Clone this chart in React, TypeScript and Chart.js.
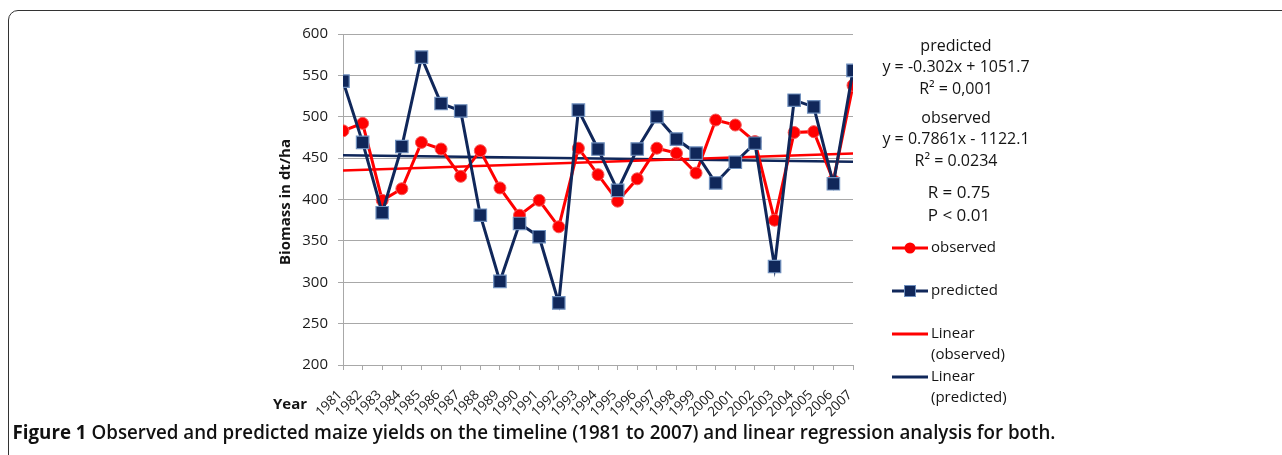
import React, { useEffect, useRef } from "react";
import { Chart, registerables } from "chart.js";

Chart.register(...registerables);

// ---- data ----
const years = [1981, 1982, 1983, 1984, 1985, 1986, 1987, 1988, 1989, 1990, 1991, 1992, 1993, 1994, 1995, 1996, 1997, 1998, 1999, 2000, 2001, 2002, 2003, 2004, 2005, 2006, 2007];
const observed = [483, 492, 399, 413, 469, 461, 428, 459, 414, 381, 399, 367, 462, 430, 398, 425, 462, 456, 432, 496, 490, 470, 375, 481, 482, 423, 538];
const predicted = [543, 469, 384, 464, 572, 516, 507, 381, 301, 371, 355, 275, 508, 461, 411, 461, 500, 473, 456, 420, 445, 468, 319, 520, 512, 419, 556];
const yMin = 200;
const yMax = 600;
const yStep = 50;
const predictedTrend = { slope: -0.302, intercept: 1051.7 };
const observedTrend = { slope: 0.7861, intercept: -1122.1 };

const yAxisTitle = "Biomass in dt/ha";
const xAxisTitle = "Year";
const annotationLines = [
  "predicted",
  "y = -0.302x + 1051.7",
  "R² = 0,001",
  "observed",
  "y = 0.7861x - 1122.1",
  "R² = 0.0234",
];
const statLines = ["R = 0.75", "P < 0.01"];
const legendLabels = ["observed", "predicted", ["Linear", "(observed)"], ["Linear", "(predicted)"]];
const captionBold = "Figure 1";
const captionRest = " Observed and predicted maize yields on the timeline (1981 to 2007) and linear regression analysis for both.";

// ---- styles ----
const RED = "#ff0000";
const NAVY = "#10275a";
const TEXT = "#141414";
const GRID = "#a8a8a8";

const trendPoints = (t: { slope: number; intercept: number }) => [
  { x: years[0], y: t.slope * years[0] + t.intercept },
  { x: years[years.length - 1], y: t.slope * years[years.length - 1] + t.intercept },
];

const overlayPlugin = {
  id: "overlay",
  afterDraw(chart: any) {
    const ctx: CanvasRenderingContext2D = chart.ctx;
    ctx.save();
    ctx.fillStyle = TEXT;
    ctx.textBaseline = "middle";

    // y axis title
    ctx.save();
    ctx.translate(286, 202);
    ctx.rotate(-Math.PI / 2);
    ctx.font = 'bold 15px "Open Sans"';
    ctx.textAlign = "center";
    ctx.fillText(yAxisTitle, 0, 0);
    ctx.restore();

    // x axis title
    ctx.font = 'bold 15px "Open Sans"';
    ctx.textAlign = "center";
    ctx.fillText(xAxisTitle, 290, 405);

    // annotations
    ctx.font = '16px "Open Sans"';
    const annY = [46, 67, 89, 118, 139, 161];
    annotationLines.forEach((t, i) => ctx.fillText(t, 956, annY[i]));
    ctx.font = '17px "Open Sans"';
    const statY = [193, 216];
    statLines.forEach((t, i) => ctx.fillText(t, 959, statY[i]));

    // legend
    const lx0 = 892;
    const lx1 = 928;
    const tx = 931;
    ctx.textAlign = "left";
    ctx.font = '15px "Open Sans"';
    const rows = [248, 291, 334, 377];
    // observed
    ctx.strokeStyle = RED;
    ctx.lineWidth = 3;
    ctx.beginPath();
    ctx.moveTo(lx0, rows[0]);
    ctx.lineTo(lx1, rows[0]);
    ctx.stroke();
    ctx.fillStyle = RED;
    ctx.beginPath();
    ctx.arc(910, rows[0], 5.5, 0, Math.PI * 2);
    ctx.fill();
    // predicted
    ctx.strokeStyle = NAVY;
    ctx.beginPath();
    ctx.moveTo(lx0, rows[1]);
    ctx.lineTo(lx1, rows[1]);
    ctx.stroke();
    ctx.fillStyle = NAVY;
    ctx.fillRect(904.5, rows[1] - 5.5, 11, 11);
    ctx.strokeStyle = "#6f8fbd";
    ctx.lineWidth = 1;
    ctx.strokeRect(904.5, rows[1] - 5.5, 11, 11);
    // linear
    ctx.lineWidth = 3;
    ctx.strokeStyle = RED;
    ctx.beginPath();
    ctx.moveTo(lx0, rows[2]);
    ctx.lineTo(lx1, rows[2]);
    ctx.stroke();
    ctx.strokeStyle = NAVY;
    ctx.beginPath();
    ctx.moveTo(lx0, rows[3]);
    ctx.lineTo(lx1, rows[3]);
    ctx.stroke();

    ctx.fillStyle = TEXT;
    legendLabels.forEach((lab, i) => {
      if (Array.isArray(lab)) {
        ctx.fillText(lab[0], tx, rows[i]);
        ctx.fillText(lab[1], tx, rows[i] + 21);
      } else {
        ctx.fillText(lab, tx, rows[i]);
      }
    });

    // caption
    const fb = 'bold 19px "Open Sans"';
    const fr = '600 19px "Open Sans"';
    ctx.font = fb;
    const wb = ctx.measureText(captionBold).width;
    ctx.font = fr;
    const wr = ctx.measureText(captionRest).width;
    const target = 1043;
    const s = target / (wb + wr);
    ctx.save();
    ctx.translate(12.5, 434);
    ctx.scale(s, 1);
    ctx.fillStyle = "#111";
    ctx.font = fb;
    ctx.fillText(captionBold, 0, 0);
    ctx.font = fr;
    ctx.fillText(captionRest, wb, 0);
    ctx.restore();

    ctx.restore();
  },
};

export default function App() {
  const ref = useRef<HTMLCanvasElement | null>(null);

  useEffect(() => {
    if (!ref.current) return;
    const chart = new Chart(ref.current, {
      type: "line",
      data: {
        datasets: [
          {
            label: "predicted",
            data: years.map((x, i) => ({ x, y: predicted[i] })),
            borderColor: NAVY,
            borderWidth: 3,
            pointStyle: "rect",
            pointRadius: 8.8,
            pointBackgroundColor: NAVY,
            pointBorderColor: "#6f8fbd",
            pointBorderWidth: 1.2,
            tension: 0,
          },
          {
            label: "observed",
            data: years.map((x, i) => ({ x, y: observed[i] })),
            borderColor: RED,
            borderWidth: 3,
            pointStyle: "circle",
            pointRadius: 6,
            pointBackgroundColor: RED,
            pointBorderColor: "#f25a5a",
            pointBorderWidth: 1,
            tension: 0,
          },
          {
            label: "Linear (observed)",
            data: trendPoints(observedTrend),
            borderColor: RED,
            borderWidth: 2.5,
            pointRadius: 0,
          },
          {
            label: "Linear (predicted)",
            data: trendPoints(predictedTrend),
            borderColor: NAVY,
            borderWidth: 2.5,
            pointRadius: 0,
          },
        ],
      },
      options: {
        responsive: false,
        animation: false,
        devicePixelRatio: 1,
        layout: { padding: { left: 200, right: 429, top: 34, bottom: 30 } },
        plugins: { legend: { display: false }, tooltip: { enabled: false } },
        scales: {
          x: {
            type: "linear",
            min: years[0],
            max: years[years.length - 1],
            afterFit: (s: any) => {
              s.height = 60;
            },
            ticks: {
              stepSize: 1,
              autoSkip: false,
              maxRotation: 45,
              minRotation: 45,
              padding: 17,
              labelOffset: -3,
              color: "#1a1a1a",
              font: { family: "Open Sans", size: 13.5 },
              callback: (v: any) => String(v),
            },
            grid: { drawOnChartArea: false, drawTicks: true, tickLength: 5, color: GRID },
            border: { color: GRID, width: 1 },
          },
          y: {
            min: yMin,
            max: yMax,
            afterFit: (s: any) => {
              s.width = 143;
            },
            ticks: {
              stepSize: yStep,
              padding: 10,
              color: "#1a1a1a",
              font: { family: "Open Sans", size: 15 },
            },
            grid: { color: GRID, tickLength: 5, lineWidth: 1 },
            border: { color: GRID, width: 1 },
          },
        },
      },
      plugins: [overlayPlugin],
    } as any);
    return () => chart.destroy();
  }, []);

  return (
    <div style={{ position: "absolute", left: 0, top: 0, width: 1282, height: 455, overflow: "hidden", background: "#fff" }}>
      <div
        style={{
          position: "absolute",
          left: 8,
          top: 10,
          width: 1400,
          height: 600,
          border: "1.5px solid #333",
          borderRadius: 10,
          boxSizing: "border-box",
        }}
      />
      <canvas ref={ref} width={1282} height={455} style={{ position: "absolute", left: 0, top: 0 }} />
    </div>
  );
}
